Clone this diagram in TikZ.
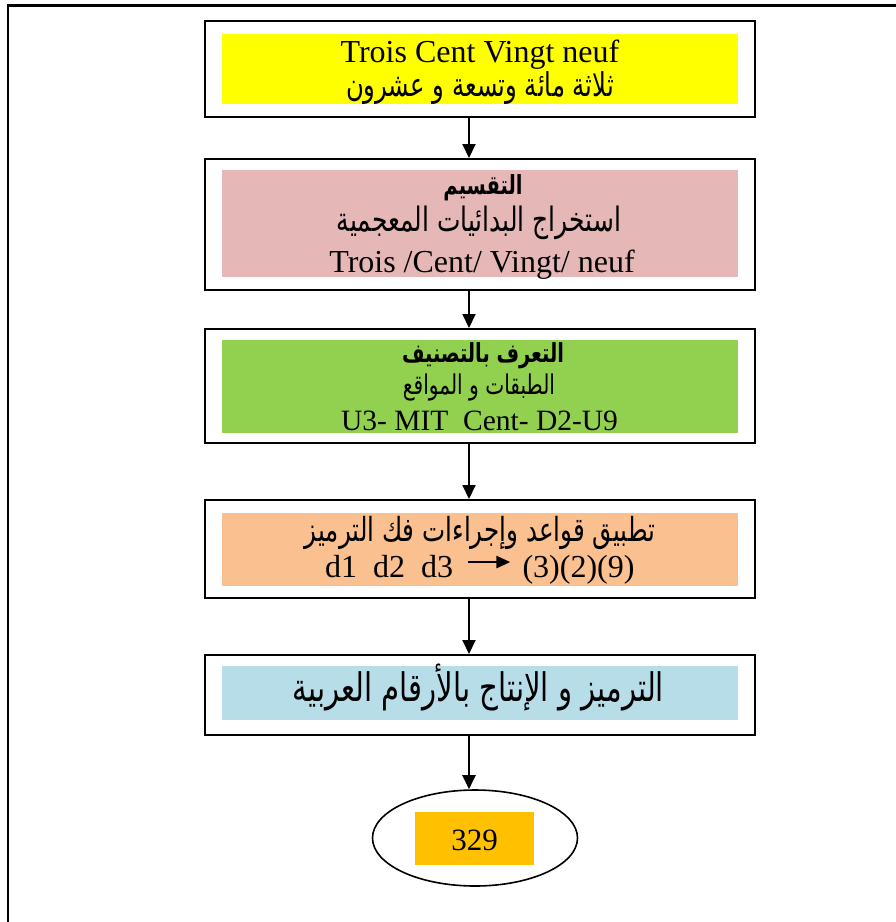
\documentclass[tikz,border=0pt]{standalone}
\usepackage{graphicx}
\usepackage{fontspec}
\setmainfont{Liberation Serif}
\newfontfamily\arabicfont[Script=Arabic]{DejaVu Sans}
\TeXXeTstate=1
\usetikzlibrary{arrows.meta,shapes.geometric}
\definecolor{cyellow}{HTML}{FFFF00}
\definecolor{cpink}{HTML}{E5B8B7}
\definecolor{cgreen}{HTML}{92D050}
\definecolor{cpeach}{HTML}{FAC090}
\definecolor{cblue}{HTML}{B7DDE8}
\definecolor{corange}{HTML}{FFC000}
\newcommand{\arfit}[2]{\scalebox{1}[1.35]{\resizebox{#1}{!}{#2}}}
\begin{document}
\begin{tikzpicture}[x=1pt,y=-1pt,
  outerbox/.style={draw, line width=2pt, minimum width=550pt, inner sep=0pt},
  fillbox/.style={draw=none, minimum width=516pt, inner sep=0pt},
  lat/.style={anchor=base, inner sep=0pt, font=\fontsize{32}{36}\selectfont},
  arl/.style={anchor=base, inner sep=0pt},
  flow/.style={line width=2pt, -{Triangle[length=14pt,width=13pt]}},
  inarrow/.style={line width=2.5pt, -{Triangle[length=14pt,width=12pt]}}]
\useasboundingbox (0,0) rectangle (896,922);
% frame
\coordinate (fbl) at (8,922);
\coordinate (ftl) at (8,5.5);
\coordinate (ftr) at (896,5.5);
\draw[line width=2.5pt] (fbl) -- (ftl) -- (ftr);
\coordinate (ax) at (469,0);
% box 1
\node[outerbox, minimum height=96pt] (b1) at (480,69) {};
\node[fillbox, fill=cyellow, minimum height=70pt] (f1) at (480,69) {};
\node[lat] (t1a) at (480,62) {Trois Cent Vingt neuf};
\node[arl] (t1b) at (480,96) {\arfit{268pt}{\arabicfont\beginR ثلاثة مائة وتسعة و عشرون\endR}};
% box 2
\node[outerbox, minimum height=131pt] (b2) at (480,224.5) {};
\node[fillbox, fill=cpink, minimum height=107pt] (f2) at (480,223.5) {};
\node[arl] (t2a) at (483,194) {\arfit{79pt}{\arabicfont\bfseries\beginR التقسيم\endR}};
\node[arl] (t2b) at (479,231) {\arfit{284pt}{\arabicfont\beginR استخراج البدائيات المعجمية\endR}};
\node[lat] (t2c) at (482,272) {Trois /Cent/ Vingt/ neuf};
% box 3
\node[outerbox, minimum height=114pt] (b3) at (480,386) {};
\node[fillbox, fill=cgreen, minimum height=93pt] (f3) at (480,386.5) {};
\node[arl] (t3a) at (483,362) {\arfit{162pt}{\arabicfont\bfseries\beginR التعرف بالتصنيف\endR}};
\node[arl] (t3b) at (479,394) {\arfit{152pt}{\arabicfont\beginR الطبقات و المواقع\endR}};
\node[lat, font=\fontsize{29.5}{34}\selectfont] (t3c) at (479.5,430) {U3- MIT\ \ Cent- D2-U9};
% box 4
\node[outerbox, minimum height=98pt] (b4) at (480,549) {};
\node[fillbox, fill=cpeach, minimum height=73pt] (f4) at (480,549.5) {};
\node[arl] (t4a) at (480,541) {\arfit{350pt}{\arabicfont\beginR تطبيق قواعد وإجراءات فك الترميز\endR}};
\node[lat] (t4d) at (389,577) {d1\ \ d2\ \ d3};
\node[lat] (t4r) at (578.5,577) {(3)(2)(9)};
\draw[inarrow] ([xshift=15pt,yshift=4pt]t4d.east) -- ([xshift=-12pt,yshift=4pt]t4d.east -| t4r.west);
% box 5
\node[outerbox, minimum height=80pt] (b5) at (480,695) {};
\node[fillbox, fill=cblue, minimum height=54pt] (f5) at (480,693) {};
\node[arl] (t5a) at (478.5,701) {\arfit{371pt}{\arabicfont\beginR الترميز و الإنتاج بالأرقام العربية\endR}};
% result
\node[draw, ellipse, line width=1.6pt, minimum width=205pt, minimum height=96pt, inner sep=0pt] (e) at (475,838) {};
\node[draw=none, fill=corange, minimum width=119pt, minimum height=53pt, inner sep=0pt] (r) at (474.5,838.5) {};
\node[lat, font=\fontsize{31}{36}\selectfont] (t329) at (474.5,850) {329};
% connectors
\draw[flow] (b1.south -| ax) -- (b2.north -| ax);
\draw[flow] (b2.south -| ax) -- (b3.north -| ax);
\draw[flow] (b3.south -| ax) -- (b4.north -| ax);
\draw[flow] (b4.south -| ax) -- (b5.north -| ax);
\draw[flow] (b5.south -| ax) -- (e.north -| ax);
\end{tikzpicture}
\end{document}
